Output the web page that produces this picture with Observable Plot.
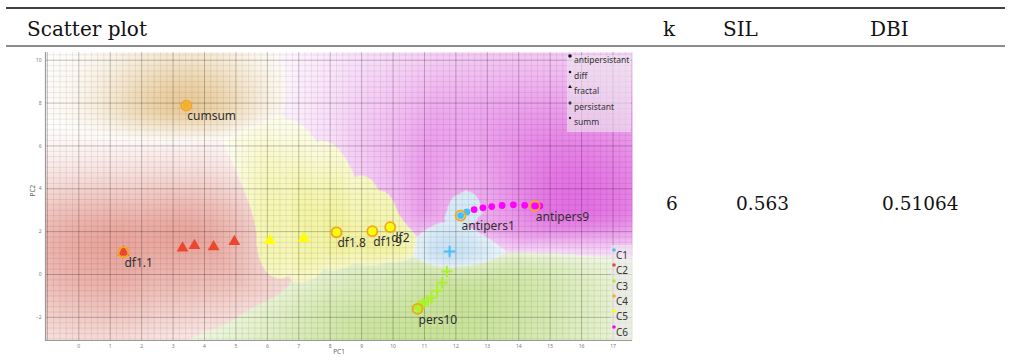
<!DOCTYPE html>
<html>
<head>
<meta charset="utf-8">
<script src="https://cdn.jsdelivr.net/npm/d3@7"></script>
<script src="https://cdn.jsdelivr.net/npm/@observablehq/plot@0.6"></script>
<style>
  html, body { margin: 0; padding: 0; background: #fff; }
  #page { position: relative; width: 1011px; height: 361px; overflow: hidden; }
  #table { position: absolute; left: 0; top: 0; }
  #chart { position: absolute; left: 0; top: 48px; }
  .legend { position: absolute; background: rgba(236, 232, 238, 0.6); font-family: "Noto Sans", "Open Sans", sans-serif; color: #333; }
  .legend .item { position: absolute; white-space: nowrap; line-height: 1; }
  .legend svg { position: absolute; overflow: visible; }
</style>
</head>
<body>
<div id="page">
  <svg id="table" width="1011" height="361"></svg>
  <div id="chart"></div>
</div>
<script>
// ---- table ----
const headers = ["Scatter plot", "k", "SIL", "DBI"];
const rowValues = ["6", "0.563", "0.51064"];

// ---- scatter data (PC1, PC2) ----
const antipersNames = ["antipers1","antipers2","antipers3","antipers4","antipers5","antipers6","antipers7","antipers8","antipers9","antipers10"];
const antipersPC1 = [12.15, 12.35, 12.58, 12.86, 13.14, 13.47, 13.83, 14.19, 14.51, 14.67];
const antipersPC2 = [2.75, 2.92, 3.03, 3.11, 3.17, 3.22, 3.25, 3.23, 3.20, 3.20];
const antipersCluster = ["C1","C1","C6","C6","C6","C6","C6","C6","C6","C6"];

const fractalNames = ["df1.1","df1.2","df1.3","df1.4","df1.5","df1.6","df1.7","df1.8","df1.9","df2"];
const fractalPC1 = [1.42, 3.30, 3.68, 4.29, 4.95, 6.08, 7.16, 8.20, 9.34, 9.91];
const fractalPC2 = [1.04, 1.23, 1.35, 1.29, 1.54, 1.58, 1.69, 1.97, 2.02, 2.21];
const fractalCluster = ["C2","C2","C2","C2","C2","C5","C5","C5","C5","C5"];

const persNames = ["pers1","pers2","pers3","pers4","pers5","pers6","pers7","pers8","pers9","pers10"];
const persPC1 = [11.80, 11.71, 11.56, 11.40, 11.22, 11.10, 10.96, 10.87, 10.82, 10.78];
const persPC2 = [1.07, 0.14, -0.39, -0.76, -1.08, -1.22, -1.34, -1.44, -1.52, -1.60];
const persCluster = ["C1","C3","C3","C3","C3","C3","C3","C3","C3","C3"];

const summNames = ["cumsum"];
const summPC1 = [3.42];
const summPC2 = [7.88];
const summCluster = ["C4"];

const kinds = ["antipersistant", "diff", "fractal", "persistant", "summ"];
const clusters = ["C1", "C2", "C3", "C4", "C5", "C6"];
const clusterColors = ["rgb(70,190,250)", "rgb(237,70,47)", "rgb(170,242,43)", "rgb(245,174,50)", "rgb(255,255,0)", "rgb(255,0,255)"];
const labelled = ["cumsum", "df1.1", "df1.8", "df1.9", "df2", "antipers1", "antipers9", "pers10"];

const xDomain = [-1.06, 17.62];
const yDomain = [-3.08, 10.36];
const xTicks = d3.range(0, 18);
const yTicks = [-2, 0, 2, 4, 6, 8, 10];

// ---- build rows ----
function rowsOf(kind, names, xs, ys, cs) {
  return names.map((name, i) => ({kind, name, x: xs[i], y: ys[i], cluster: cs[i]}));
}
const points = [
  ...rowsOf("antipersistant", antipersNames, antipersPC1, antipersPC2, antipersCluster),
  ...rowsOf("fractal", fractalNames, fractalPC1, fractalPC2, fractalCluster),
  ...rowsOf("persistant", persNames, persPC1, persPC2, persCluster),
  ...rowsOf("summ", summNames, summPC1, summPC2, summCluster)
];
const colorOf = (c) => clusterColors[clusters.indexOf(c)];

// ---- geometry ----
const W = 650, H = 313;
const mL = 45, mR = 18, mT = 4, mB = 21;
const fw = W - mL - mR, fh = H - mT - mB;
const kx = fw / (xDomain[1] - xDomain[0]);
const ky = fh / (yDomain[1] - yDomain[0]);

// ---- class region shading ----
// per cluster: base tint, reach (px), stretch left / right / up / down, peak strength
const regionTint = {
  C1: [165, 207, 236], C2: [215, 95, 80], C3: [150, 200, 60],
  C4: [212, 155, 60], C5: [228, 228, 45], C6: [215, 50, 215]
};
const regionShape = {
  C1: [45, 1.3, 1.0, 0.8, 2.5, 0.78],
  C2: [85, 0.75, 1.0, 1.6, 1.15, 0.60],
  C3: [110, 0.55, 0.8, 5.0, 0.8, 0.55],
  C4: [55, 0.9, 0.95, 1.4, 2.8, 0.52],
  C5: [72, 2.0, 1.8, 1.0, 1.4, 0.62],
  C6: [122, 1.05, 0.8, 1.15, 3.5, 0.74]
};
const members = clusters.map(c => points.filter(p => p.cluster === c));

function shade(x, y) {
  let best = 0, second = 0, bc = 0;
  for (let c = 0; c < clusters.length; c++) {
    const [r, sl, sr, su, sd, a] = regionShape[clusters[c]];
    let dmin = Infinity;
    for (const p of members[c]) {
      const dx = (x - p.x) * kx;
      const dy = (p.y - y) * ky;
      const ex = dx < 0 ? dx * sl : dx * sr;
      const ey = dy < 0 ? dy * su : dy * sd;
      const d2 = ex * ex + ey * ey;
      if (d2 < dmin) dmin = d2;
    }
    const v = a * Math.exp(-dmin / (2 * r * r));
    if (v > best) { second = best; best = v; bc = c; }
    else if (v > second) second = v;
  }
  const t = Math.max(0, best - 0.45 * second);
  const [R, G, B] = regionTint[clusters[bc]];
  return `rgb(${Math.round(255 - t * (255 - R))},${Math.round(255 - t * (255 - G))},${Math.round(255 - t * (255 - B))})`;
}

// ---- chart ----
const minorX = d3.range(-1, 17.61, 0.2).filter(v => Math.abs(v - Math.round(v)) > 1e-6);
const minorY = d3.range(-3, 10.36, 0.25).filter(v => Math.abs(v / 2 - Math.round(v / 2)) > 1e-6);
const majorX = d3.range(-1, 18);
const majorY = d3.range(-2, 11, 2);

const pointStyle = {x: "x", y: "y", fill: d => colorOf(d.cluster)};
const chart = Plot.plot({
  width: W, height: H,
  marginLeft: mL, marginRight: mR, marginTop: mT, marginBottom: mB,
  x: {domain: xDomain},
  y: {domain: yDomain},
  color: {type: "identity"},
  style: {background: "transparent", fontFamily: "Noto Sans, sans-serif"},
  marks: [
    Plot.raster({fill: shade, x1: xDomain[0], x2: xDomain[1], y1: yDomain[0], y2: yDomain[1], pixelSize: 1}),
    Plot.gridX(minorX, {stroke: "#000", strokeOpacity: 0.07, strokeWidth: 1}),
    Plot.gridY(minorY, {stroke: "#000", strokeOpacity: 0.07, strokeWidth: 1}),
    Plot.gridX(majorX, {stroke: "#000", strokeOpacity: 0.24, strokeWidth: 1}),
    Plot.gridY(majorY, {stroke: "#000", strokeOpacity: 0.24, strokeWidth: 1}),
    Plot.ruleY([yDomain[0]], {stroke: "#9a9a9a", strokeWidth: 1.2}),
    Plot.ruleX([xDomain[0]], {stroke: "#9a9a9a", strokeWidth: 1.2}),
    Plot.axisX(xTicks, {tickSize: 0, tickPadding: 4, fontSize: 5, fill: "#777", label: null}),
    Plot.axisY(yTicks, {tickSize: 0, tickPadding: 4, fontSize: 5, fill: "#777", label: null}),
    Plot.text(["PC1"], {frameAnchor: "bottom", dy: 13, fontSize: 6.5, fill: "#666"}),
    Plot.text(["PC2"], {frameAnchor: "left", dx: -13, rotate: -90, fontSize: 6.5, fill: "#666"}),
    Plot.dot(points.filter(d => d.kind === "antipersistant"), {...pointStyle, r: 3.4}),
    Plot.dot(points.filter(d => d.kind === "fractal"), {...pointStyle, symbol: "triangle", r: 4.4}),
    Plot.dot(points.filter(d => d.kind === "persistant"), {x: "x", y: "y", stroke: d => colorOf(d.cluster), symbol: "plus", r: 3.8, strokeWidth: 2}),
    Plot.dot(points.filter(d => d.kind === "summ"), {...pointStyle, r: 3.6}),
    Plot.dot(points.filter(d => labelled.includes(d.name)), {x: "x", y: "y", r: 5, fill: "none", stroke: "#f3a712", strokeWidth: 1.8}),
    Plot.text(points.filter(d => labelled.includes(d.name)), {x: "x", y: "y", text: "name", textAnchor: "start", dx: 1, dy: 11, fontSize: 12, fill: "#2f2f2f", fontFamily: "Noto Sans, sans-serif"})
  ]
});
document.getElementById("chart").appendChild(chart);

// ---- overlay legends (shape and cluster) ----
const page = document.getElementById("page");
const chartTop = 48;
function legendBox(left, top, width, height) {
  const box = document.createElement("div");
  box.className = "legend";
  Object.assign(box.style, {left: left + "px", top: top + "px", width: width + "px", height: height + "px"});
  page.appendChild(box);
  return box;
}
const kindSymbols = {antipersistant: d3.symbolCircle, diff: d3.symbolSquare, fractal: d3.symbolTriangle, persistant: d3.symbolCross, summ: d3.symbolCircle};
const kindSizes = {antipersistant: 10, diff: 5, fractal: 6, persistant: 6, summ: 4};
const shapeBox = legendBox(567, chartTop + 7, 64, 77);
kinds.forEach((k, i) => {
  const cy = 6 + i * 15.5;
  const svg = d3.select(shapeBox).append("svg").attr("width", 6).attr("height", 6)
    .style("left", "0px").style("top", (cy - 8) + "px");
  svg.append("path").attr("transform", "translate(3,3)")
    .attr("d", d3.symbol(kindSymbols[k], kindSizes[k])()).attr("fill", "#111");
  const t = document.createElement("div");
  t.className = "item"; t.textContent = k;
  Object.assign(t.style, {left: "7px", top: (cy - 5) + "px", fontSize: "8.5px"});
  shapeBox.appendChild(t);
});
const colorBox = legendBox(611, chartTop + 197, 21, 95);
clusters.forEach((c, i) => {
  const cy = 5 + i * 15.35;
  const svg = d3.select(colorBox).append("svg").attr("width", 4).attr("height", 4)
    .style("left", "1px").style("top", (cy - 2) + "px");
  svg.append("circle").attr("cx", 2).attr("cy", 2).attr("r", 1.8).attr("fill", clusterColors[i]);
  const t = document.createElement("div");
  t.className = "item"; t.textContent = c;
  Object.assign(t.style, {left: "5px", top: (cy + 0) + "px", fontSize: "10px"});
  colorBox.appendChild(t);
});

// ---- table frame and text ----
const table = d3.select("#table");
table.append("line").attr("x1", 6).attr("x2", 1005).attr("y1", 8).attr("y2", 8).attr("stroke", "#000").attr("stroke-width", 1.3);
table.append("line").attr("x1", 6).attr("x2", 1005).attr("y1", 46).attr("y2", 46).attr("stroke", "#000").attr("stroke-width", 0.9);
const headerX = [27, 663, 723, 870];
table.selectAll("text.h").data(headers).join("text").attr("class", "h")
  .attr("x", (d, i) => headerX[i]).attr("y", 36)
  .attr("font-family", "DejaVu Serif, serif").attr("font-size", 20).attr("fill", "#111").text(d => d);
const valueX = [666, 736, 882];
table.selectAll("text.v").data(rowValues).join("text").attr("class", "v")
  .attr("x", (d, i) => valueX[i]).attr("y", 210)
  .attr("font-family", "DejaVu Serif, serif").attr("font-size", 18.5).attr("fill", "#111").text(d => d);
</script>
</body>
</html>
